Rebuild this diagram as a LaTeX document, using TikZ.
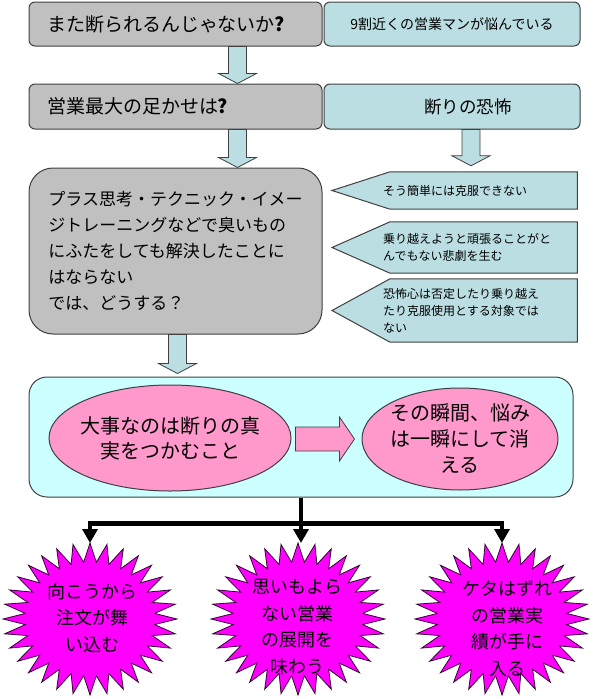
\documentclass[tikz,border=0pt]{standalone}
\usepackage{fontspec}
\setmainfont{Noto Sans CJK JP}
\usetikzlibrary{arrows.meta,positioning,calc,backgrounds}
\definecolor{graybox}{RGB}{192,192,192}
\definecolor{tealbox}{RGB}{187,222,226}
\definecolor{palecyan}{RGB}{204,255,255}
\definecolor{ovalpink}{RGB}{255,153,204}
\definecolor{burstpink}{RGB}{255,0,255}
\definecolor{edge}{RGB}{64,64,64}

\tikzset{
  qbox/.style={draw=edge,fill=graybox,line width=1pt,rounded corners=6pt,minimum height=44pt,
    text width=257pt,inner xsep=18pt,align=left,font=\fontsize{19}{23}\selectfont},
  abox/.style={draw=edge,fill=tealbox,line width=1pt,rounded corners=6pt,minimum height=44pt,
    minimum width=256pt},
  bigq/.style={draw=edge,fill=graybox,line width=1pt,rounded corners=24pt,minimum width=293pt,
    minimum height=166pt,align=left,font=\fontsize{17}{26}\selectfont},
  pent/.style={anchor=west,text width=194pt,inner xsep=0pt,align=left,font=\fontsize{12}{17}\selectfont},
  pentshape/.style={draw=edge,fill=tealbox,line width=1pt},
  cbox/.style={draw=edge,fill=palecyan,line width=1pt,rounded corners=18pt,minimum width=544pt,
    minimum height=120pt},
  oval/.style={ellipse,draw=edge,fill=ovalpink,line width=1pt,inner xsep=-25pt,inner ysep=-5pt,
    align=center},
  fatarrow/.style={draw=edge,fill=tealbox,line width=0.8pt},
  pinkarrow/.style={draw=edge,fill=ovalpink,line width=0.8pt},
  burst/.style={draw=black!80!burstpink,fill=burstpink,line width=0.8pt},
  bursttext/.style={align=center,font=\fontsize{18}{26.5}\selectfont},
  feed/.style={line width=4.5pt,-{Triangle[width=15pt,length=14pt]}}
}
\usetikzlibrary{shapes.geometric}

\newcommand{\downfat}[2]{%
  \draw[fatarrow] let \p1=(#1), \p2=(#2) in
    (\x1-9pt,\y1) -- (\x1-9pt,\y2+10pt) -- (\x1-19pt,\y2+10pt) -- (\x1,\y2)
    -- (\x1+19pt,\y2+10pt) -- (\x1+9pt,\y2+10pt) -- (\x1+9pt,\y1) -- cycle;}
\newcommand{\rightfat}[2]{%
  \draw[pinkarrow] let \p1=(#1), \p2=(#2) in
    (\x1,\y2+12pt) -- (\x2-15pt,\y2+12pt) -- (\x2-15pt,\y2+22pt) -- (\x2,\y2)
    -- (\x2-15pt,\y2-22pt) -- (\x2-15pt,\y2-12pt) -- (\x1,\y2-12pt) -- cycle;}

\begin{document}
\begin{tikzpicture}[x=1pt,y=-1pt,>=Stealth]
\useasboundingbox (0,0) rectangle (592,699);
\node[qbox] (q1) at (175.5,24){また断られるんじゃないか\textbf{?}};
\node[abox,font=\fontsize{14}{17}\selectfont] (a1) at (452,24){9割近くの営業マンが悩んでいる};
\node[qbox,minimum height=45pt] (q2) at (175.5,106.5){営業最大の足かせは\textbf{?}};
\node[abox,minimum height=45pt,font=\fontsize{17.5}{21}\selectfont] (a2) at (452,106.5){\hspace*{32pt}断りの恐怖};
\node[bigq] (q3) at (175.5,251){プラス思考・テクニック・イメー\\ジトレーニングなどで臭いもの\\にふたをしても解決したことに\\はならない\\では、どうする？};

\node[pent,minimum height=37pt] (r1) at (383,190.5){そう簡単には克服できない};
\node[pent,minimum height=51pt] (r2) at (383,247.5){乗り越えようと頑張ることがと\\んでもない悲劇を生む};
\node[pent,minimum height=63pt] (r3) at (383,310.5){恐怖心は否定したり乗り越え\\たり克服使用とする対象では\\ない};
\begin{scope}[on background layer]
\foreach \n in {r1,r2,r3}
  \draw[pentshape] ([xshift=7pt]\n.north west) -- (\n.north east) -- (\n.south east)
    -- ([xshift=7pt]\n.south west) -- ([xshift=-51pt]\n.west) -- cycle;
\end{scope}

\node[cbox] (c) at (301,437){};
\node[oval,minimum width=242pt,minimum height=106pt,font=\fontsize{20}{25}\selectfont] (e1) at (170,438){大事なのは断りの真\\実をつかむこと};
\node[oval,minimum width=196pt,minimum height=102pt,font=\fontsize{20}{26}\selectfont] (e2) at (460,439){その瞬間、悩み\\は一瞬にして消\\える};

\downfat{[xshift=62pt]q1.south}{[xshift=62pt]q2.north}
\downfat{[xshift=62pt]q2.south}{[xshift=62pt]q3.north}
\coordinate (a2x) at ([xshift=19pt]a2.south);
\coordinate (r1x) at (a2x |- r1.north);
\downfat{a2x}{[yshift=6pt]r1x}
\coordinate (q3x) at ([xshift=2pt]q3.south);
\coordinate (cx) at (q3x |- c.north);
\downfat{q3x}{[yshift=3pt]cx}
\rightfat{[xshift=4pt]e1.east}{[xshift=-7pt]e2.west}

\coordinate (s1) at (90,619);
\coordinate (s2) at (298,619);
\coordinate (s3) at (502,619);
\foreach \s in {s1,s2,s3}
  \draw[burst,shift={(\s)}] plot[domain=0:63,samples=64,variable=\k]
    ({ifthenelse(mod(\k,2)==0,87,65)*cos(90+\k*5.625)},{ifthenelse(mod(\k,2)==0,76,57)*sin(90+\k*5.625)}) -- cycle;
\node[bursttext] (b1) at (92,618){向こうから\\注文が舞\\い込む};
\node[bursttext] (b2) at (297,627){思いもよら\\ない営業\\の展開を\\味わう};
\node[bursttext] (b3) at (507,629){ケタはずれ\\の営業実\\績が手に\\入る};

\coordinate (t1) at ([yshift=76pt]s1);
\coordinate (t2) at ([yshift=76pt]s2);
\coordinate (t3) at ([yshift=76pt]s3);
\coordinate (j) at ([yshift=-26pt]c.south);
\draw[feed] (c.south) -- (c.south |- t2);
\draw[feed] (j) -| (t1);
\draw[feed] (j) -| (t3);
\end{tikzpicture}
\end{document}
